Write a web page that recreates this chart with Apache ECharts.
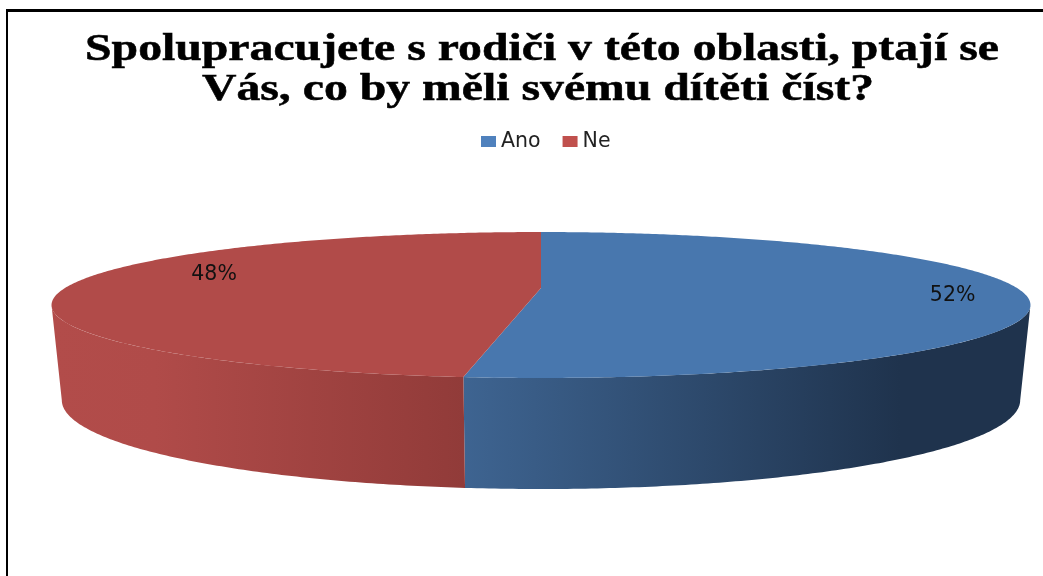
<!DOCTYPE html>
<html>
<head>
<meta charset="utf-8">
<title>Spolupracujete s rodiči</title>
<script src="https://cdn.jsdelivr.net/npm/echarts@6/dist/echarts.min.js"></script>
<style>
  html, body { margin: 0; padding: 0; background: #fff; }
  #chart { width: 1043px; height: 576px; }
</style>
</head>
<body>
<div id="chart"></div>
<script>
// data
const categories = ['Ano', 'Ne'];
const values = [52, 48];
const titleLines = ['Spolupracujete s rodiči v této oblasti, ptají se', 'Vás, co by měli svému dítěti číst?'];

// colours
const legendColors = ['#4F81BD', '#C0504D'];
const topColors = ['#4877AE', '#B14B49'];
const wallStops = [
  [[0, '#3E6491'], [0.77, '#1F334D'], [1, '#1F334D']],
  [[0, '#B24C4A'], [0.25, '#B04B49'], [1, '#913B39']]
];

// the pie is a flat disc seen in perspective
const cx = 541;
const persp = 0.233;
const topDisc = { a: 476, b: 69, y: 288 };
const bottomDisc = { a: 466, b: 84, y: 379.5 };
const labelTurn = [0.01, 0.035];  // shift from the middle of the slice
const labelRadius = [0.85, 0.75];

const total = values.reduce((s, v) => s + v, 0);

// angle in radians, clockwise from the back of the disc
function project(disc, angle, r) {
  const u = Math.sin(angle) * r;
  const v = -Math.cos(angle) * r;
  const d = 1 - persp * v;
  return [cx + disc.a * u / d, disc.y + disc.b * v / d];
}

function arc(disc, from, to) {
  const pts = [];
  const n = Math.max(2, Math.ceil((to - from) / 0.01));
  for (let i = 0; i <= n; i++) {
    pts.push(project(disc, from + (to - from) * i / n, 1));
  }
  return pts;
}

function sliceRange(index) {
  const before = values.slice(0, index).reduce((s, v) => s + v, 0);
  return [before / total * Math.PI * 2, (before + values[index]) / total * Math.PI * 2];
}

// walls are only visible on the front part of the rim
const wallFrom = Math.acos(-persp);
const wallTo = Math.PI * 2 - wallFrom;

function renderSlice(params, api) {
  const i = params.seriesIndex;
  const range = sliceRange(i);
  const children = [];

  const from = Math.max(range[0], wallFrom);
  const to = Math.min(range[1], wallTo);
  if (to > from) {
    const wall = arc(topDisc, from, to).concat(arc(bottomDisc, from, to).reverse());
    children.push({
      type: 'polygon',
      shape: { points: wall },
      style: {
        fill: {
          type: 'linear', x: 0, y: 0, x2: 1, y2: 0,
          colorStops: wallStops[i].map(s => ({ offset: s[0], color: s[1] }))
        }
      }
    });
  }

  children.push({
    type: 'polygon',
    shape: { points: [[cx, topDisc.y]].concat(arc(topDisc, range[0], range[1])) },
    style: { fill: topColors[i] }
  });

  const mid = (range[0] + range[1]) / 2 + labelTurn[i] * Math.PI * 2;
  const at = project(topDisc, mid, labelRadius[i]);
  children.push({
    type: 'text',
    x: at[0],
    y: at[1],
    style: {
      text: Math.round(api.value(0) / total * 100) + '%',
      fill: '#111',
      font: '20.5px "DejaVu Sans"',
      textAlign: 'center',
      textVerticalAlign: 'middle'
    }
  });
  return { type: 'group', children: children };
}

const chart = echarts.init(document.getElementById('chart'));

const titleStyle = {
  fill: '#000',
  stroke: '#000',
  lineWidth: 0.5,
  font: 'bold 37px "Liberation Serif"',
  textAlign: 'center',
  textVerticalAlign: 'middle'
};

const option = {
  animation: false,
  backgroundColor: '#fff',
  legend: {
    data: categories,
    left: 481,
    top: 131,
    padding: 0,
    icon: 'rect',
    itemWidth: 15,
    itemHeight: 11,
    itemGap: 22,
    selectedMode: false,
    textStyle: { fontFamily: 'DejaVu Sans', fontSize: 20.5, color: '#222' }
  },
  graphic: [
    {
      type: 'line',
      shape: { x1: 7, y1: 9, x2: 7, y2: 576 },
      style: { stroke: '#000', lineWidth: 2 }
    },
    {
      type: 'line',
      shape: { x1: 6, y1: 10.5, x2: 1043, y2: 10.5 },
      style: { stroke: '#000', lineWidth: 3 }
    },
    {
      type: 'text', x: 542, y: 50.5, scaleX: 1.29,
      style: Object.assign({ text: titleLines[0] }, titleStyle)
    },
    {
      type: 'text', x: 538, y: 90.5, scaleX: 1.29,
      style: Object.assign({ text: titleLines[1] }, titleStyle)
    }
  ],
  series: categories.map((name, i) => ({
    name: name,
    type: 'custom',
    coordinateSystem: 'none',
    itemStyle: { color: legendColors[i] },
    renderItem: renderSlice,
    data: [[values[i]]]
  }))
};

chart.setOption(option);
</script>
</body>
</html>
